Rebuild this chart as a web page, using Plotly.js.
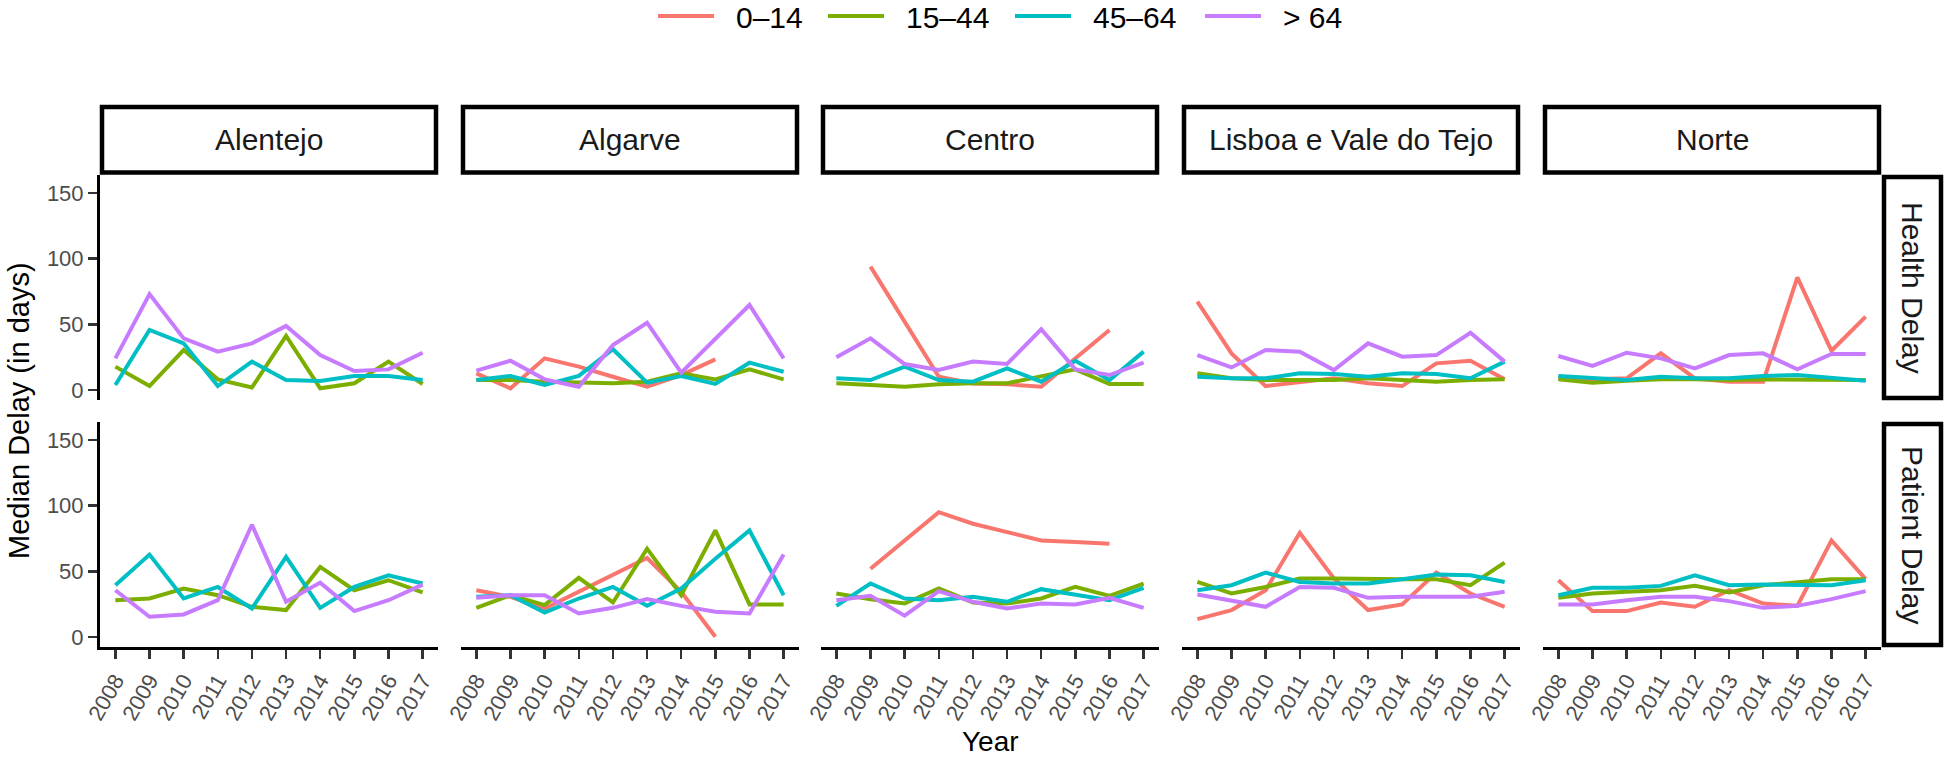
<!DOCTYPE html>
<html>
<head>
<meta charset="utf-8">
<script src="https://cdn.plot.ly/plotly-3.0.1.min.js"></script>
<style>
  html, body { margin: 0; padding: 0; background: #ffffff; }
  #chart { width: 1946px; height: 758px; }
</style>
</head>
<body>
<div id="chart"></div>
<script>
// ---------------- DATA ----------------
const years = [2008, 2009, 2010, 2011, 2012, 2013, 2014, 2015, 2016, 2017];
const regions = ["Alentejo", "Algarve", "Centro", "Lisboa e Vale do Tejo", "Norte"];
const delayTypes = ["Health Delay", "Patient Delay"];
const ageGroups = ["0–14", "15–44", "45–64", "> 64"];
const yTickValues = [0, 50, 100, 150];

// each array: rows in ageGroups order (0–14, 15–44, 45–64, > 64), columns in years order
const healthAlentejo = [
  [null, null, null, null, null, null, null, null, null, null],
  [17.8, 3, 30.4, 8.1, 2, 41.1, 1.3, 5.1, 21.6, 4.6],
  [3.8, 45.7, 35.5, 3, 21.6, 7.6, 6.8, 10.7, 10.7, 7.6],
  [24.1, 73, 39.3, 29.2, 35.5, 48.7, 26.6, 14.5, 15.7, 28.4]
];
const healthAlgarve = [
  [12.7, 1.3, 24.1, 17.8, 10.1, 2.5, 11.4, 23.3, null, null],
  [7.6, 7.6, 6.3, 5.6, 5.1, 6.3, 12.7, 8.1, 15.7, 8.1],
  [7.6, 10.7, 3.8, 10.7, 31, 5.6, 10.7, 4.6, 20.8, 13.9],
  [14.7, 22.3, 8.1, 2.5, 34.2, 51.2, 13.2, 39.3, 64.7, 24.1]
];
const healthCentro = [
  [null, 93.9, null, 10.1, 5, 4.3, 2.5, 24.1, 45.7, null],
  [5.1, 3.8, 2.5, 4.3, 5.1, 5.1, 10.1, 15.7, 4.6, 4.6],
  [8.9, 7.6, 17.8, 7.6, 6.3, 16.5, 6.3, 22.3, 7.6, 29.2],
  [24.9, 39.3, 19.8, 15.2, 21.6, 19.8, 46.2, 15.7, 11.4, 20.8]
];
const healthLisboa = [
  [67.2, 27.9, 3, 6.3, 8.9, 5.1, 3, 20.3, 22.3, 8.1],
  [12.7, 8.9, 7.6, 7.6, 7.6, 8.9, 7.6, 6.3, 7.6, 8.1],
  [10.1, 8.9, 8.9, 12.7, 12.2, 10.1, 12.7, 12.2, 8.9, 21.6],
  [26.6, 17.2, 30.4, 29.2, 15.2, 35.5, 25.4, 26.6, 43.6, 21.6]
];
const healthNorte = [
  [8.9, 8.1, 8.9, 27.9, 8.9, 6.3, 6.3, 85.7, 29.9, 55.8],
  [8.1, 5.6, 7.1, 8.1, 8.1, 7.6, 8.1, 8.1, 8.1, 7.6],
  [10.7, 8.9, 7.6, 10.1, 8.9, 8.9, 10.7, 11.4, 8.9, 7.1],
  [25.9, 18.3, 28.4, 24.1, 16.5, 26.6, 27.9, 15.7, 27.4, 27.4]
];
const patientAlentejo = [
  [null, null, null, null, null, null, null, null, null, null],
  [28, 29.3, 36.9, 31.8, 23, 20.5, 53.3, 35.6, 43.2, 33.9],
  [39.4, 62.7, 29.3, 38.1, 21.7, 60.9, 22.2, 38.1, 47, 40.7],
  [35.6, 15.4, 17.2, 28, 85.4, 26.8, 41.4, 19.7, 28, 39.9]
];
const patientAlgarve = [
  [35.6, 30.6, 21.7, 34.4, 47, 60.1, 34.4, 0.2, null, null],
  [22.2, 31.8, 24.3, 45, 26.3, 67.2, 31.8, 81.1, 24.8, 24.8],
  [30.6, 31.8, 18.7, 29.3, 38.1, 23.7, 36.9, 59.6, 81.1, 31.8],
  [29.8, 31.8, 31.8, 17.9, 22.2, 28.8, 23.7, 19.2, 17.9, 62.7]
];
const patientCentro = [
  [null, 52, null, 95, 86.2, 79.8, 73.5, 72.3, 71, null],
  [33.1, 28.8, 25.5, 36.9, 26.3, 25.5, 29.3, 38.1, 31.3, 40.7],
  [23.7, 40.7, 29.3, 28, 30.6, 26.8, 36.4, 32.3, 28, 37.4],
  [28, 31.3, 16.2, 34.9, 26.8, 21.7, 25.5, 24.8, 29.8, 22.2]
];
const patientLisboa = [
  [13.6, 20.5, 35.6, 79.3, 44.5, 20.5, 24.8, 49, 33.1, 23],
  [41.9, 33.1, 38.1, 44.5, 44.5, 44, 44, 44, 39.4, 56.6],
  [35.6, 39.4, 49, 41.9, 40.7, 40.7, 44, 47.5, 47, 41.9],
  [32.3, 28, 23, 38.1, 37.4, 29.8, 30.6, 30.6, 30.6, 34.4]
];
const patientNorte = [
  [43.2, 19.7, 19.7, 26.3, 23, 35.6, 25.5, 23.7, 73.5, 44],
  [29.8, 33.1, 34.4, 35.6, 38.9, 33.9, 39.4, 41.9, 44, 44],
  [31.8, 37.4, 37.4, 38.9, 47, 39.4, 39.9, 39.4, 39.4, 43.2],
  [24.8, 24.8, 28, 30.6, 30.6, 27.3, 22.2, 23.7, 28.8, 34.9]
];

// ---------------- STYLE / LAYOUT ----------------
const colors = ["#F8766D", "#7CAE00", "#00BFC4", "#C77CFF"];
const W = 1946, H = 758;
const fx = x => x / W;
const fy = y => 1 - y / H;
const panelLeft = [100, 461, 821, 1182, 1543];
const panelWidth = 338;
const rowTop = [175, 422];
const rowHeight = 225;
const FONT = "Liberation Sans, Arial, Helvetica, sans-serif";

const panelData = [
  [healthAlentejo, healthAlgarve, healthCentro, healthLisboa, healthNorte],
  [patientAlentejo, patientAlgarve, patientCentro, patientLisboa, patientNorte]
];

const traces = [];
const layout = {
  width: W, height: H,
  margin: {l: 0, r: 0, t: 0, b: 0},
  paper_bgcolor: "#ffffff",
  plot_bgcolor: "#ffffff",
  showlegend: false,
  font: {family: FONT, color: "#000000"},
  shapes: [],
  annotations: []
};

for (let r = 0; r < 2; r++) {
  for (let c = 0; c < 5; c++) {
    const k = r * 5 + c + 1;
    const xa = "x" + k, ya = "y" + k;
    const series = panelData[r][c];
    for (let g = 0; g < ageGroups.length; g++) {
      traces.push({
        type: "scatter", mode: "lines",
        x: years, y: series[g],
        xaxis: xa, yaxis: ya,
        name: ageGroups[g],
        connectgaps: true,
        line: {color: colors[g], width: 4},
        hoverinfo: "x+y+name"
      });
    }
    const bottom = (r === 1);
    const left = (c === 0);
    layout["xaxis" + k] = {
      domain: [fx(panelLeft[c]), fx(panelLeft[c] + panelWidth)],
      anchor: ya,
      range: [2007.55, 2017.45],
      tickvals: years,
      ticktext: years.map(String),
      showgrid: false, zeroline: false,
      showline: bottom, linecolor: "#000000", linewidth: 3,
      ticks: bottom ? "outside" : "", ticklen: 9, tickwidth: 2.5, tickcolor: "#333333",
      showticklabels: bottom,
      tickangle: -60,
      tickfont: {family: FONT, size: 22, color: "#4d4d4d"},
      fixedrange: true
    };
    layout["yaxis" + k] = {
      domain: [fy(rowTop[r] + rowHeight), fy(rowTop[r])],
      anchor: xa,
      range: [-7.6, 163.6],
      tickvals: yTickValues,
      showgrid: false, zeroline: false,
      showline: left, linecolor: "#000000", linewidth: 3,
      ticks: left ? "outside" : "", ticklen: 9, tickwidth: 2.5, tickcolor: "#333333",
      showticklabels: left,
      tickfont: {family: FONT, size: 22, color: "#4d4d4d"},
      fixedrange: true
    };
  }
}

// facet strips on top (regions)
for (let c = 0; c < 5; c++) {
  layout.shapes.push({
    type: "rect", xref: "paper", yref: "paper",
    x0: fx(panelLeft[c] + 2), x1: fx(panelLeft[c] + panelWidth - 2),
    y0: fy(172.5), y1: fy(107),
    line: {color: "#000000", width: 4.5}, fillcolor: "#ffffff", layer: "below"
  });
  layout.annotations.push({
    xref: "paper", yref: "paper",
    x: fx(panelLeft[c] + panelWidth / 2), y: fy(140),
    text: regions[c], showarrow: false,
    xanchor: "center", yanchor: "middle",
    font: {family: FONT, size: 30, color: "#1a1a1a"}
  });
}
// facet strips on the right (delay types)
for (let r = 0; r < 2; r++) {
  layout.shapes.push({
    type: "rect", xref: "paper", yref: "paper",
    x0: fx(1884), x1: fx(1941),
    y0: fy(rowTop[r] + rowHeight - 2), y1: fy(rowTop[r] + 2),
    line: {color: "#000000", width: 4.5}, fillcolor: "#ffffff", layer: "below"
  });
  layout.annotations.push({
    xref: "paper", yref: "paper",
    x: fx(1912.5), y: fy(rowTop[r] + rowHeight / 2),
    text: delayTypes[r], showarrow: false, textangle: 90,
    xanchor: "center", yanchor: "middle",
    font: {family: FONT, size: 30, color: "#1a1a1a"}
  });
}

// axis titles
layout.annotations.push({
  xref: "paper", yref: "paper",
  x: fx((panelLeft[0] + panelLeft[4] + panelWidth) / 2), y: fy(741),
  text: "Year", showarrow: false, xanchor: "center", yanchor: "middle",
  font: {family: FONT, size: 28, color: "#000000"}
});
layout.annotations.push({
  xref: "paper", yref: "paper",
  x: fx(19), y: fy((rowTop[0] + rowTop[1] + rowHeight) / 2),
  text: "Median Delay (in days)", showarrow: false, textangle: -90,
  xanchor: "center", yanchor: "middle",
  font: {family: FONT, size: 29, color: "#000000"}
});

// legend (drawn manually to match key length)
const legendLineX = [658, 828, 1015, 1205];
for (let g = 0; g < ageGroups.length; g++) {
  layout.shapes.push({
    type: "line", xref: "paper", yref: "paper",
    x0: fx(legendLineX[g]), x1: fx(legendLineX[g] + 56),
    y0: fy(16), y1: fy(16),
    line: {color: colors[g], width: 4}
  });
  layout.annotations.push({
    xref: "paper", yref: "paper",
    x: fx(legendLineX[g] + 76), y: fy(17),
    text: ageGroups[g], showarrow: false,
    xanchor: "left", yanchor: "middle",
    font: {family: FONT, size: 30, color: "#000000"}
  });
}

Plotly.newPlot("chart", traces, layout, {displayModeBar: false, staticPlot: true});
</script>
</body>
</html>
